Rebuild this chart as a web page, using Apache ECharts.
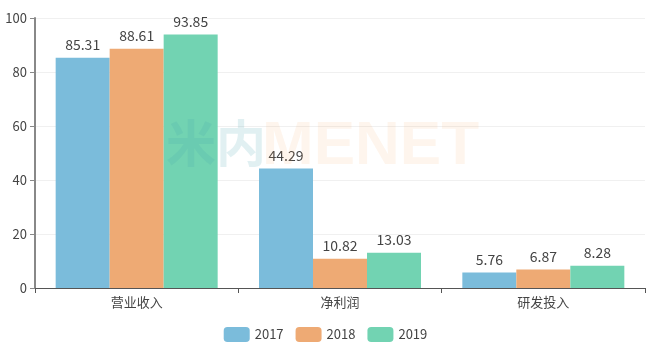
<!DOCTYPE html>
<html>
<head>
<meta charset="utf-8">
<script src="https://cdn.jsdelivr.net/npm/echarts@6/dist/echarts.min.js"></script>
<style>
  html, body { margin: 0; padding: 0; background: #fff; }
  #main { width: 651px; height: 352px; }
</style>
</head>
<body>
<div id="main"></div>
<script>
var categories = ['营业收入', '净利润', '研发投入'];
var years = ['2017', '2018', '2019'];
var values2017 = [85.31, 44.29, 5.76];
var values2018 = [88.61, 10.82, 6.87];
var values2019 = [93.85, 13.03, 8.28];
var colors = ['#7bbcdb', '#eeaa74', '#72d3b2'];

var font = '"Noto Sans CJK SC", "Microsoft YaHei", sans-serif';

function makeSeries(name, data, i) {
	return {
		name: name,
		type: 'bar',
		data: data,
		barWidth: 54,
		barGap: '0%',
		itemStyle: { color: colors[i] },
		label: {
			show: true,
			position: 'top',
			distance: 6,
			color: '#444',
			fontSize: 14,
			fontFamily: font
		}
	};
}

var chart = echarts.init(document.getElementById('main'));
chart.setOption({
	animation: false,
	textStyle: { fontFamily: font },
	grid: { left: 35, right: 6, top: 18, bottom: 64 },
	// watermark on top of the bars
	graphic: [
		{ type: 'text', left: 166, top: 118, z: 100, silent: true,
		  style: { text: '米内', fontSize: 50, fontWeight: 'bold', fontFamily: font, fill: 'rgba(70,160,175,0.16)' } },
		{ type: 'text', left: 262, top: 116, z: 100, silent: true,
		  style: { text: 'MENET', fontSize: 62, fontWeight: 'bold', fontFamily: 'Liberation Sans', fill: 'rgba(245,170,110,0.12)' } }
	],
	legend: {
		bottom: 5,
		itemWidth: 26,
		itemHeight: 15,
		itemGap: 12,
		textStyle: { fontSize: 13, color: '#444' },
		data: years
	},
	xAxis: {
		type: 'category',
		data: categories,
		axisLine: { lineStyle: { color: '#555' } },
		axisTick: { show: true, lineStyle: { color: '#555' } },
		axisLabel: { color: '#444', fontSize: 13, margin: 8 }
	},
	yAxis: {
		type: 'value',
		min: 0,
		max: 100,
		interval: 20,
		axisLine: { show: true, lineStyle: { color: '#888', width: 2 } },
		axisTick: { show: true, lineStyle: { color: '#888' } },
		axisLabel: { color: '#444', fontSize: 13 },
		splitLine: { lineStyle: { color: '#f0f0f0' } }
	},
	series: [
		makeSeries(years[0], values2017, 0),
		makeSeries(years[1], values2018, 1),
		makeSeries(years[2], values2019, 2)
	]
});
</script>
</body>
</html>
